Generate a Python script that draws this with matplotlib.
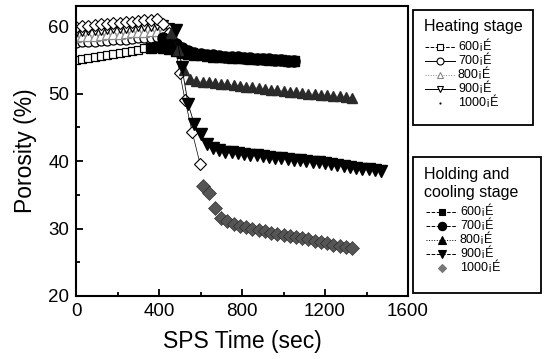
import matplotlib
matplotlib.use("Agg")
import matplotlib.pyplot as plt
from matplotlib.lines import Line2D
from matplotlib.patches import Rectangle
from matplotlib.ticker import MultipleLocator

plt.rcParams["font.family"] = ["Liberation Sans", "DejaVu Sans"]

# ---- heating stage (open markers) ----
h600_t = [0, 30, 60, 90, 120, 150, 180, 210, 240, 270, 300, 330, 360]
h600_p = [55.0, 55.2, 55.3, 55.5, 55.6, 55.8, 55.9, 56.1, 56.2, 56.4, 56.5, 56.7, 56.8]
h700_t = [0, 30, 60, 90, 120, 150, 180, 210, 240, 270, 300, 330, 360, 390, 420]
h700_p = [57.5, 57.6, 57.6, 57.7, 57.8, 57.8, 57.9, 58.0, 58.0, 58.1, 58.2, 58.2, 58.3, 58.4, 58.4]
h800_t = [0, 30, 60, 90, 120, 150, 180, 210, 240, 270, 300, 330, 360, 390, 420, 450]
h800_p = [58.4, 58.5, 58.6, 58.6, 58.7, 58.8, 58.9, 58.9, 59.0, 59.1, 59.1, 59.2, 59.3, 59.3, 59.4, 59.0]
h900_t = [0, 30, 60, 90, 120, 150, 180, 210, 240, 270, 300, 330, 360, 390, 420, 450, 480]
h900_p = [59.2, 59.3, 59.4, 59.5, 59.5, 59.6, 59.7, 59.8, 59.8, 59.9, 60.0, 60.1, 60.1, 60.2, 60.2, 59.8, 59.5]
h1000_t = [0, 30, 60, 90, 120, 150, 180, 210, 240, 270, 300, 330, 360, 390,
           420, 450, 480, 500, 525, 560, 598]
h1000_p = [59.9, 60.0, 60.1, 60.2, 60.3, 60.4, 60.5, 60.5, 60.6, 60.7, 60.8, 60.9, 60.9, 61.0,
           60.3, 59.0, 56.5, 53.1, 49.1, 44.3, 39.6]

# ---- holding and cooling stage (filled markers) ----
s600_t = [360, 390, 420, 450, 480, 510, 540, 570, 600, 630, 660, 690, 720, 750, 780, 810,
          840, 870, 900, 930, 960, 990, 1020, 1050]
s600_p = [56.8, 56.9, 56.8, 56.6, 56.3, 56.1, 55.9, 55.8, 55.7, 55.6, 55.5, 55.45, 55.4,
          55.35, 55.3, 55.25, 55.2, 55.15, 55.1, 55.05, 55.0, 54.95, 54.9, 54.85]
s700_t = [420, 450, 480, 510, 540, 570, 600, 630, 660, 690, 720, 750, 780, 810, 840, 870,
          900, 930, 960, 990, 1020, 1050]
s700_p = [58.2, 57.8, 57.3, 56.8, 56.4, 56.1, 55.9, 55.8, 55.7, 55.6, 55.5, 55.45, 55.4,
          55.35, 55.3, 55.2, 55.15, 55.1, 55.0, 54.95, 54.9, 54.8]
s800_t = [460, 490, 520, 550, 580, 610, 640, 670, 700, 730, 760, 790, 820, 850, 880, 910,
          940, 970, 1000, 1030, 1060, 1090, 1120, 1150, 1180, 1210, 1240, 1270, 1300, 1330]
s800_p = [59.0, 56.5, 53.5, 52.2, 51.9, 51.8, 51.7, 51.6, 51.5, 51.4, 51.3, 51.2, 51.05,
          50.95, 50.85, 50.7, 50.6, 50.5, 50.4, 50.3, 50.2, 50.1, 50.0, 49.95, 49.85, 49.8,
          49.7, 49.6, 49.5, 49.4]
s900_t = [480, 510, 540, 570, 600, 630, 660, 690, 720, 750, 780, 810, 840, 870, 900, 930,
          960, 990, 1020, 1050, 1080, 1110, 1140, 1170, 1200, 1230, 1260, 1290, 1320, 1350,
          1380, 1410, 1440, 1470]
s900_p = [59.5, 54.0, 48.5, 45.5, 44.0, 42.5, 41.9, 41.6, 41.4, 41.3, 41.2, 41.05, 40.95,
          40.85, 40.75, 40.65, 40.5, 40.4, 40.3, 40.2, 40.1, 40.0, 39.9, 39.8, 39.7, 39.55,
          39.45, 39.3, 39.2, 39.05, 38.9, 38.8, 38.65, 38.5]
s1000_t = [610, 640, 670, 700, 730, 760, 790, 820, 850, 880, 910, 940, 970, 1000, 1030,
           1060, 1090, 1120, 1150, 1180, 1210, 1240, 1270, 1300, 1330]
s1000_p = [36.3, 35.3, 33.0, 31.6, 31.1, 30.7, 30.4, 30.2, 30.0, 29.8, 29.6, 29.4, 29.2,
           29.05, 28.9, 28.75, 28.6, 28.4, 28.2, 28.0, 27.8, 27.6, 27.4, 27.25, 27.1]

labels = ["600¡É", "700¡É", "800¡É", "900¡É", "1000¡É"]
GRAY = "#8a8a8a"
W, H = 544, 359

fig = plt.figure(figsize=(5.44, 3.59), dpi=100)
ax = fig.add_axes([76 / W, 1 - 296 / H, 332 / W, 290 / H])

# heating
ax.plot(h600_t, h600_p, "--s", color="k", mfc="white", ms=6, lw=0.6, mew=0.9)
ax.plot(h700_t, h700_p, "-o", color="k", mfc="white", ms=6.5, lw=0.6, mew=0.9)
ax.plot(h800_t, h800_p, ":^", color=GRAY, mfc="white", ms=7, lw=0.6, mew=0.9)
ax.plot(h900_t, h900_p, "-v", color="k", mfc="white", ms=7, lw=0.6, mew=0.9)
ax.plot(h1000_t, h1000_p, "-D", color="k", mfc="white", ms=6, lw=0.5, mew=0.8)
# holding / cooling
ax.plot(s600_t, s600_p, "--s", color="k", ms=7, lw=0.6)
ax.plot(s700_t, s700_p, "-o", color="k", ms=8, lw=0.6)
ax.plot(s800_t, s800_p, ":^", color="#2a2a2a", ms=7.5, lw=0.6)
ax.plot(s900_t, s900_p, "-v", color="k", ms=8, lw=0.6)
ax.plot(s1000_t, s1000_p, "D", color="#555555", ms=7, mec="#222222", mew=0.4)

ax.set_xlim(0, 1600)
ax.set_ylim(20, 63)
ax.xaxis.set_major_locator(MultipleLocator(400))
ax.xaxis.set_minor_locator(MultipleLocator(200))
ax.yaxis.set_major_locator(MultipleLocator(10))
ax.yaxis.set_minor_locator(MultipleLocator(5))
ax.tick_params(which="both", direction="in", labelsize=13.5, width=1.3, pad=5)
ax.tick_params(which="major", length=5)
ax.tick_params(which="minor", length=3)
for s in ax.spines.values():
    s.set_linewidth(1.5)
ax.set_xlabel("SPS Time (sec)", fontsize=16.5, labelpad=7)
ax.set_ylabel("Porosity (%)", fontsize=16.5, labelpad=8)


def fx(x):
    return x / W


def fy(y):
    return 1 - y / H


def key(box, title, title_y, rows_y, hx, tx, fs, styles):
    x0, y0, x1, y1 = box
    fig.add_artist(Rectangle((fx(x0), fy(y1)), fx(x1) - fx(x0), fy(y0) - fy(y1),
                             transform=fig.transFigure, fill=False, ec="k", lw=1.3))
    for t, ty in zip(title, title_y):
        fig.text(fx(424), fy(ty), t, fontsize=11.5, ha="left", va="center")
    for (ls, mk, c, mfc, ms), lab, ry in zip(styles, labels, rows_y):
        fig.add_artist(Line2D([fx(hx[0]), fx(hx[1])], [fy(ry)] * 2, ls=ls, color=c,
                              lw=0.7, transform=fig.transFigure))
        fig.add_artist(Line2D([fx((hx[0] + hx[1]) / 2)], [fy(ry)], ls="none", marker=mk,
                              color=c, mfc=mfc, ms=ms, mew=0.8, transform=fig.transFigure))
        fig.text(fx(tx), fy(ry), lab, fontsize=fs, ha="left", va="center")


key((413, 10, 533, 125), ["Heating stage"], [27], [47, 61, 75, 89, 103],
    (425, 455), 458, 9,
    [("--", "s", "k", "white", 5), ("-", "o", "k", "white", 5),
     (":", "^", GRAY, "white", 5), ("-", "v", "k", "white", 5),
     ("none", ".", "k", "k", 1.5)])
key((413, 157, 541, 293), ["Holding and", "cooling stage"], [175, 192],
    [212, 226, 240, 254, 268], (426, 457), 460, 9,
    [("--", "s", "k", "k", 5), ("--", "o", "k", "k", 6),
     (":", "^", "k", "k", 6), ("--", "v", "k", "k", 6),
     ("none", "D", "#777777", "#777777", 4)])

fig.savefig("out.png", dpi=100)
